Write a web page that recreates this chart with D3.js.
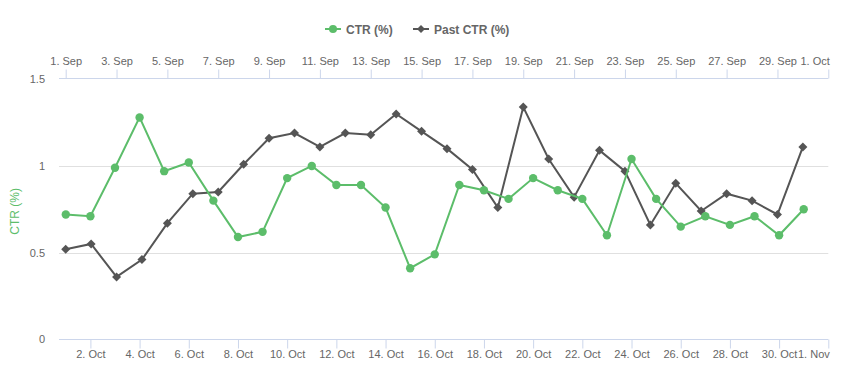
<!DOCTYPE html>
<html>
<head>
<meta charset="utf-8">
<script src="https://cdn.jsdelivr.net/npm/d3@7"></script>
<style>
  html, body { margin: 0; padding: 0; background: #fff; }
  svg { display: block; font-family: "Liberation Sans", Arial, sans-serif; }
</style>
</head>
<body>
<svg id="chart" width="842" height="372"></svg>
<script>
// ---- data ----
const ctrDates = ["2023-10-01","2023-10-02","2023-10-03","2023-10-04","2023-10-05","2023-10-06","2023-10-07","2023-10-08","2023-10-09","2023-10-10","2023-10-11","2023-10-12","2023-10-13","2023-10-14","2023-10-15","2023-10-16","2023-10-17","2023-10-18","2023-10-19","2023-10-20","2023-10-21","2023-10-22","2023-10-23","2023-10-24","2023-10-25","2023-10-26","2023-10-27","2023-10-28","2023-10-29","2023-10-30","2023-10-31"];
const ctrValues = [0.72,0.71,0.99,1.28,0.97,1.02,0.80,0.59,0.62,0.93,1.00,0.89,0.89,0.76,0.41,0.49,0.89,0.86,0.81,0.93,0.86,0.81,0.60,1.04,0.81,0.65,0.71,0.66,0.71,0.60,0.75];
const pastDates = ["2023-09-01","2023-09-02","2023-09-03","2023-09-04","2023-09-05","2023-09-06","2023-09-07","2023-09-08","2023-09-09","2023-09-10","2023-09-11","2023-09-12","2023-09-13","2023-09-14","2023-09-15","2023-09-16","2023-09-17","2023-09-18","2023-09-19","2023-09-20","2023-09-21","2023-09-22","2023-09-23","2023-09-24","2023-09-25","2023-09-26","2023-09-27","2023-09-28","2023-09-29","2023-09-30"];
const pastValues = [0.52,0.55,0.36,0.46,0.67,0.84,0.85,1.01,1.16,1.19,1.11,1.19,1.18,1.30,1.20,1.10,0.98,0.76,1.34,1.04,0.82,1.09,0.97,0.66,0.90,0.74,0.84,0.80,0.72,1.11];
const bottomTicks = ["2023-10-02","2023-10-04","2023-10-06","2023-10-08","2023-10-10","2023-10-12","2023-10-14","2023-10-16","2023-10-18","2023-10-20","2023-10-22","2023-10-24","2023-10-26","2023-10-28","2023-10-30","2023-11-01"];
const topTicks = ["2023-09-01","2023-09-03","2023-09-05","2023-09-07","2023-09-09","2023-09-11","2023-09-13","2023-09-15","2023-09-17","2023-09-19","2023-09-21","2023-09-23","2023-09-25","2023-09-27","2023-09-29","2023-10-01"];
const yTicks = [0, 0.5, 1, 1.5];
const seriesNames = ["CTR (%)", "Past CTR (%)"];
const yTitle = "CTR (%)";

// ---- styling ----
const GREEN = "#5cbd6a";
const DARK = "#555555";
const parse = d3.utcParse("%Y-%m-%d");
const fmt = d3.utcFormat("%-d. %b");

const svg = d3.select("#chart");
const plotLeft = 59, plotRight = 828.3, plotTop = 79.3, plotBottom = 339.3;

const xBottom = d3.scaleUtc().domain([parse("2023-10-01"), parse("2023-11-01")]).range([65.8, 828.3]);
const xTop = d3.scaleUtc().domain([parse("2023-09-01"), parse("2023-10-01")]).range([65.7, 828.3]);
const y = d3.scaleLinear().domain([0, 1.5]).range([plotBottom, plotTop]);

// grid lines
svg.append("g").selectAll("line").data(yTicks.filter(v => v > 0 && v < 1.5)).join("line")
  .attr("x1", plotLeft).attr("x2", plotRight)
  .attr("y1", d => Math.round(y(d)) + 0.5).attr("y2", d => Math.round(y(d)) + 0.5)
  .attr("stroke", "#e0e0e0").attr("stroke-width", 1);

// y labels
svg.append("g").selectAll("text").data(yTicks).join("text")
  .attr("x", 45).attr("y", d => y(d) + 4)
  .attr("text-anchor", "end").attr("font-size", 11).attr("fill", "#666")
  .text(d => d3.format("~g")(d));

// y title
svg.append("text")
  .attr("transform", `translate(19,${(plotTop + plotBottom) / 2 + 2}) rotate(-90)`)
  .attr("text-anchor", "middle").attr("font-size", 12).attr("fill", GREEN)
  .text(yTitle);

// bottom axis
const gB = svg.append("g").attr("transform", `translate(0,${Math.round(plotBottom) + 0.5})`);
gB.append("line").attr("x1", plotLeft).attr("x2", plotRight).attr("stroke", "#ccd6eb");
const bAxis = d3.axisBottom(xBottom).tickValues(bottomTicks.map(parse)).tickFormat(fmt).tickSize(9).tickSizeOuter(0);
gB.call(bAxis);
gB.select(".domain").remove();
gB.selectAll(".tick line").attr("stroke", "#ccd6eb");
gB.selectAll(".tick text").attr("fill", "#666").attr("font-size", 11).attr("dy", "0.71em").attr("y", 11)
  .attr("font-family", "Liberation Sans, Arial, sans-serif");
gB.selectAll(".tick:last-of-type text").attr("text-anchor", "end").attr("x", 1);

// top axis
const gT = svg.append("g").attr("transform", `translate(0,${Math.round(plotTop) - 0.5})`);
gT.append("line").attr("x1", plotLeft).attr("x2", plotRight).attr("stroke", "#ccd6eb");
const tAxis = d3.axisTop(xTop).tickValues(topTicks.map(parse)).tickFormat(fmt).tickSize(9).tickSizeOuter(0);
gT.call(tAxis);
gT.select(".domain").remove();
gT.selectAll(".tick line").attr("stroke", "#ccd6eb");
gT.selectAll(".tick text").attr("fill", "#666").attr("font-size", 11).attr("y", -14)
  .attr("font-family", "Liberation Sans, Arial, sans-serif");
gT.selectAll(".tick:last-of-type text").attr("text-anchor", "end").attr("x", 1);

// series
const ctr = ctrDates.map((d, i) => ({ x: parse(d), v: ctrValues[i] }));
const past = pastDates.map((d, i) => ({ x: parse(d), v: pastValues[i] }));

const diamond = "M0,-4.5L4.5,0L0,4.5L-4.5,0Z";

svg.append("path").datum(past)
  .attr("fill", "none").attr("stroke", DARK).attr("stroke-width", 2)
  .attr("d", d3.line().x(d => xTop(d.x)).y(d => y(d.v)));
svg.append("g").selectAll("path").data(past).join("path")
  .attr("d", diamond).attr("fill", DARK)
  .attr("transform", d => `translate(${xTop(d.x)},${y(d.v)})`);

svg.append("path").datum(ctr)
  .attr("fill", "none").attr("stroke", GREEN).attr("stroke-width", 2)
  .attr("d", d3.line().x(d => xBottom(d.x)).y(d => y(d.v)));
svg.append("g").selectAll("circle").data(ctr).join("circle")
  .attr("cx", d => xBottom(d.x)).attr("cy", d => y(d.v)).attr("r", 4.2)
  .attr("fill", GREEN);

// legend
const legend = svg.append("g").attr("font-size", 12).attr("font-weight", "bold");
const items = [
  { name: seriesNames[0], color: GREEN, x0: 325, marker: "circle" },
  { name: seriesNames[1], color: DARK, x0: 413, marker: "diamond" }
];
items.forEach(it => {
  const g = legend.append("g").attr("transform", `translate(${it.x0},29)`);
  g.append("line").attr("x1", 0).attr("x2", 16).attr("stroke", it.color).attr("stroke-width", 2);
  if (it.marker === "circle") g.append("circle").attr("cx", 8).attr("r", 4).attr("fill", it.color);
  else g.append("path").attr("d", "M0,-4L4,0L0,4L-4,0Z").attr("transform", "translate(8,0)").attr("fill", it.color);
  g.append("text").attr("x", 21).attr("y", 4.5).attr("fill", "#666").text(it.name);
});
</script>
</body>
</html>
